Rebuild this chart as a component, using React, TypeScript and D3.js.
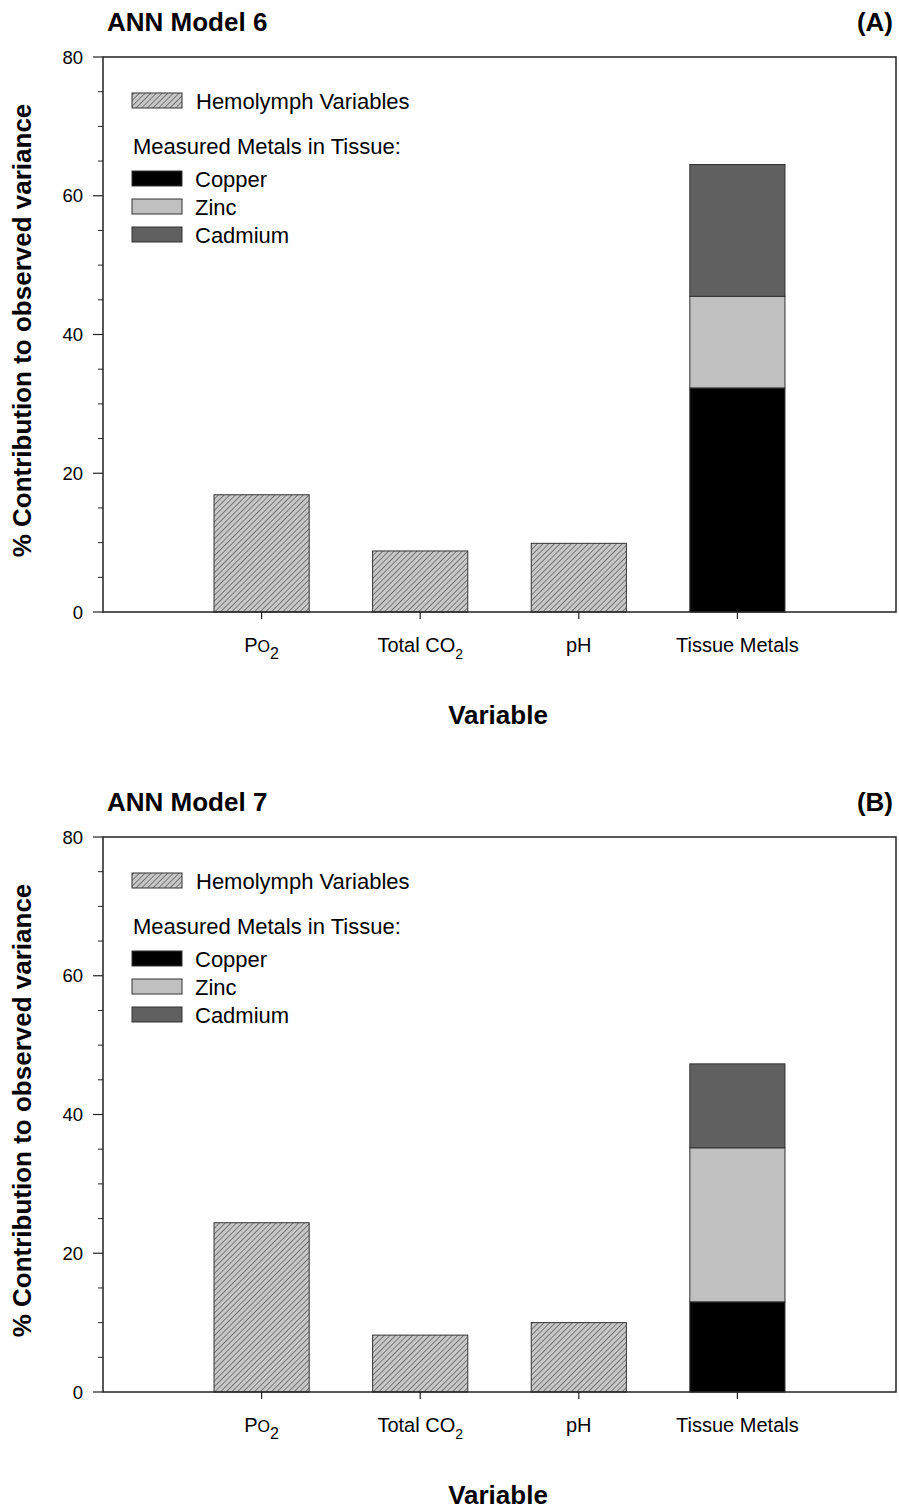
import React from 'react';
import * as d3 from 'd3';

const categories = ['Po2', 'Total CO2', 'pH', 'Tissue Metals'];
const hemoCategories = ['Po2', 'Total CO2', 'pH'];
const metalKeys = ['Copper', 'Zinc', 'Cadmium'];
const metalColors = ['#000000', '#c0c0c0', '#606060'];
const yTicks = [0, 20, 40, 60, 80];

// panel A - ANN Model 6
const hemoA = [16.9, 8.8, 9.9];
const metalsA = [32.3, 13.2, 19.0];
// panel B - ANN Model 7
const hemoB = [24.4, 8.2, 10.0];
const metalsB = [13.0, 22.2, 12.1];

const W = 899;
const H = 1511;
const FONT = 'Arial, "Liberation Sans", Helvetica, sans-serif';

const margin = { top: 57, left: 103, right: 3 };
const plotH = 555;

function XLabel({ name }: { name: string }) {
  if (name === 'Po2') {
    return (
      <>
        P<tspan fontSize={16}>O</tspan>
        <tspan fontSize={16} dy={7}>2</tspan>
      </>
    );
  }
  if (name === 'Total CO2') {
    return (
      <>
        Total CO<tspan fontSize={14} dy={7}>2</tspan>
      </>
    );
  }
  return <>{name}</>;
}

function Panel({ offsetY, title, tag, hemo, metals, pid }: {
  offsetY: number; title: string; tag: string; hemo: number[]; metals: number[]; pid: string;
}) {
  const left = margin.left;
  const right = W - margin.right;
  const top = margin.top;
  const bottom = top + plotH;

  const x = d3.scalePoint<string>().domain(categories).range([left, right]).padding(1);
  const y = d3.scaleLinear().domain([0, 80]).range([bottom, top]);
  const bw = x.step() * 0.6;

  const row: Record<string, number> = {};
  metalKeys.forEach((k, i) => { row[k] = metals[i]; });
  const stacked = d3.stack<Record<string, number>>().keys(metalKeys)([row]);

  const minor = d3.range(0, 80.01, 5).filter(v => v % 20 !== 0);

  return (
    <g transform={`translate(0,${offsetY})`}>
      <text x={107} y={31} fontSize={26} fontWeight="bold" fontFamily={FONT}>{title}</text>
      <text x={893} y={31} fontSize={26} fontWeight="bold" fontFamily={FONT} textAnchor="end">{tag}</text>

      {/* hemolymph bars */}
      {hemoCategories.map((c, i) => (
        <rect key={c} x={x(c)! - bw / 2} y={y(hemo[i])} width={bw} height={y(0) - y(hemo[i])}
          fill={`url(#hatch${pid})`} stroke="#333" strokeWidth={1} />
      ))}

      {/* stacked metals */}
      {stacked.map((s, i) => (
        <rect key={s.key} x={x('Tissue Metals')! - bw / 2} y={y(s[0][1])} width={bw}
          height={y(s[0][0]) - y(s[0][1])} fill={metalColors[i]} stroke="#333" strokeWidth={1} />
      ))}

      {/* frame */}
      <rect x={left} y={top} width={right - left} height={plotH} fill="none" stroke="#222" strokeWidth={1.5} />

      {/* y ticks */}
      {yTicks.map(t => (
        <g key={t}>
          <line x1={left - 10} x2={left} y1={y(t)} y2={y(t)} stroke="#222" strokeWidth={1.2} />
          <text x={83} y={y(t)} dy="0.36em" textAnchor="end" fontSize={18.5} fontFamily={FONT}>{t}</text>
        </g>
      ))}
      {minor.map(t => (
        <line key={t} x1={left - 5} x2={left} y1={y(t)} y2={y(t)} stroke="#222" strokeWidth={1} />
      ))}

      {/* x ticks */}
      {categories.map(c => (
        <g key={c}>
          <line x1={x(c)} x2={x(c)} y1={bottom} y2={bottom + 7} stroke="#222" strokeWidth={1.2} />
          <text x={x(c)} y={bottom + 40} textAnchor="middle" fontSize={20} fontFamily={FONT}>
            <XLabel name={c} />
          </text>
        </g>
      ))}

      <text x={498} y={bottom + 112} textAnchor="middle" fontSize={26}
        fontWeight="bold" fontFamily={FONT}>Variable</text>
      <text transform={`translate(31,${(top + bottom) / 2 - 4}) rotate(-90)`} textAnchor="middle"
        fontSize={26} fontWeight="bold" fontFamily={FONT}>% Contribution to observed variance</text>

      {/* legend */}
      <rect x={132} y={93} width={50} height={15} fill={`url(#hatch${pid})`} stroke="#333" strokeWidth={1} />
      <text x={196} y={101} dy="0.36em" fontSize={22} fontFamily={FONT}>Hemolymph Variables</text>
      <text x={133} y={146} dy="0.36em" fontSize={22} fontFamily={FONT}>Measured Metals in Tissue:</text>
      {metalKeys.map((k, i) => (
        <g key={k}>
          <rect x={132} y={171 + i * 28} width={50} height={15} fill={metalColors[i]} stroke="#333" strokeWidth={1} />
          <text x={195} y={179 + i * 28} dy="0.36em" fontSize={22} fontFamily={FONT}>{k}</text>
        </g>
      ))}
    </g>
  );
}

export default function App() {
  return (
    <svg width={W} height={H} style={{ position: 'absolute', left: 0, top: 0, background: '#fff' }}>
      <defs>
        {['A', 'B'].map(p => (
          <pattern key={p} id={`hatch${p}`} patternUnits="userSpaceOnUse" width={4} height={4}
            patternTransform="rotate(45)">
            <rect width={4} height={4} fill="#c8c8c8" />
            <line x1={0} y1={0} x2={0} y2={4} stroke="#222" strokeWidth={1} />
          </pattern>
        ))}
      </defs>
      <Panel offsetY={0} title="ANN Model 6" tag="(A)" hemo={hemoA} metals={metalsA} pid="A" />
      <Panel offsetY={780} title="ANN Model 7" tag="(B)" hemo={hemoB} metals={metalsB} pid="B" />
    </svg>
  );
}
